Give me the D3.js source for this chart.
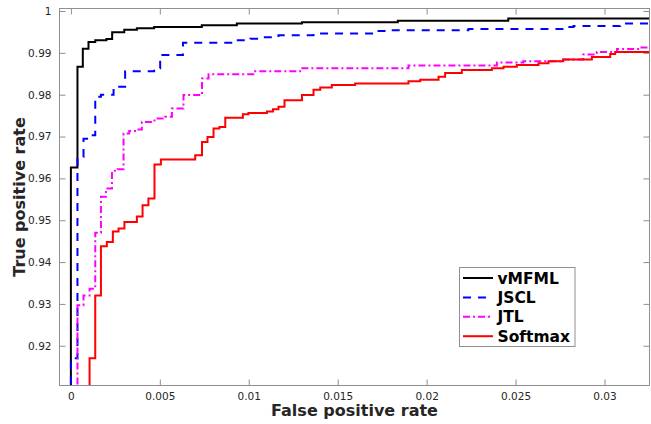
<!DOCTYPE html>
<html>
<head>
<meta charset="utf-8">
<script src="https://cdn.jsdelivr.net/npm/d3@7"></script>
<style>
  body { margin: 0; background: #fff; }
  svg { display: block; font-family: "DejaVu Sans", sans-serif; }
</style>
</head>
<body>
<svg id="chart" width="651" height="424"></svg>
<script>
// ROC curves, each point is (fpr, tpr reached at that fpr)
const seriesNames = ["vMFML", "JSCL", "JTL", "Softmax"];

const vmfmlFpr = [0, 0, 0.00037, 0.00067, 0.00099, 0.00137, 0.0020, 0.00232, 0.0030, 0.00371, 0.00468, 0.00736, 0.00933, 0.01299, 0.01838, 0.02459, 0.0326];
const vmfmlTpr = [0.90, 0.9626, 0.9867, 0.9910, 0.9926, 0.9930, 0.9933, 0.9949, 0.9955, 0.9959, 0.9962, 0.9966, 0.9970, 0.9973, 0.9977, 0.9982, 0.9982];

const jsclFpr = [0, 0, 0.00037, 0.00071, 0.00105, 0.00137, 0.00169, 0.0024, 0.00305, 0.00468, 0.00502, 0.0063, 0.00914, 0.01008, 0.01083, 0.01167, 0.01364, 0.0172, 0.01786, 0.02235, 0.02789, 0.02826, 0.03088, 0.0326];
const jsclTpr = [0.90, 0.9170, 0.9651, 0.9695, 0.9703, 0.9795, 0.9800, 0.9819, 0.9856, 0.9863, 0.9895, 0.9924, 0.9930, 0.9934, 0.9937, 0.9942, 0.9946, 0.9952, 0.9954, 0.9957, 0.9962, 0.9964, 0.9970, 0.9970];

const jtlFpr = [0.00037, 0.00037, 0.00071, 0.00105, 0.00137, 0.00169, 0.00197, 0.00231, 0.00262, 0.00296, 0.00328, 0.00361, 0.00399, 0.0047, 0.0053, 0.00568, 0.00633, 0.00737, 0.00774, 0.01036, 0.01289, 0.01898, 0.02395, 0.02543, 0.02768, 0.0288, 0.02957, 0.0307, 0.03201, 0.0326];
const jtlTpr = [0.90, 0.9297, 0.9320, 0.9336, 0.9470, 0.9556, 0.9576, 0.9618, 0.9622, 0.9707, 0.9713, 0.9717, 0.9735, 0.9743, 0.9747, 0.9767, 0.9799, 0.9839, 0.9849, 0.9856, 0.9863, 0.9870, 0.9877, 0.9880, 0.9884, 0.9896, 0.9902, 0.9909, 0.9913, 0.9913];

const softmaxFpr = [0.00105, 0.00105, 0.00137, 0.00169, 0.00202, 0.00236, 0.00268, 0.00301, 0.00371, 0.00403, 0.00436, 0.0047, 0.00506, 0.00699, 0.00737, 0.00768, 0.00802, 0.00835, 0.00868, 0.00967, 0.00998, 0.01102, 0.01136, 0.01167, 0.01201, 0.01299, 0.01364, 0.01402, 0.01467, 0.01598, 0.01898, 0.01964, 0.02067, 0.02104, 0.02198, 0.02367, 0.02432, 0.02507, 0.02629, 0.02685, 0.02768, 0.02929, 0.03032, 0.0306, 0.0326];
const softmaxTpr = [0.90, 0.9170, 0.9320, 0.9438, 0.9448, 0.9473, 0.9480, 0.9496, 0.9509, 0.9536, 0.9552, 0.9633, 0.9645, 0.9655, 0.9687, 0.9699, 0.9719, 0.9723, 0.9745, 0.9753, 0.9756, 0.9760, 0.9765, 0.9771, 0.9787, 0.9799, 0.9812, 0.9817, 0.9823, 0.9827, 0.9832, 0.9836, 0.9843, 0.9852, 0.9859, 0.9863, 0.9867, 0.9871, 0.9875, 0.9880, 0.9884, 0.9890, 0.9897, 0.9902, 0.9902];

const xTicks = [0, 0.005, 0.01, 0.015, 0.02, 0.025, 0.03];
const xTickLabels = ["0", "0.005", "0.01", "0.015", "0.02", "0.025", "0.03"];
const yTicks = [0.92, 0.93, 0.94, 0.95, 0.96, 0.97, 0.98, 0.99, 1];
const yTickLabels = ["0.92", "0.93", "0.94", "0.95", "0.96", "0.97", "0.98", "0.99", "1"];

const series = [
  { name: seriesNames[0], fpr: vmfmlFpr, tpr: vmfmlTpr },
  { name: seriesNames[1], fpr: jsclFpr, tpr: jsclTpr },
  { name: seriesNames[2], fpr: jtlFpr, tpr: jtlTpr },
  { name: seriesNames[3], fpr: softmaxFpr, tpr: softmaxTpr }
];
const styles = [
  { color: "#000000", dash: null },
  { color: "#0000ff", dash: "8,7" },
  { color: "#ff00ff", dash: "7,3,2,3" },
  { color: "#ff0000", dash: null }
];

const plotLeft = 59.5, plotRight = 649.5, plotTop = 8.5, plotBottom = 385.5;
const axisColor = "#8f8f8f";
const textColor = "#262626";

const svg = d3.select("#chart");

const x = d3.scaleLinear().domain([-0.00064, 0.03253]).range([plotLeft, plotRight]);
const y = d3.scaleLinear().domain([0.9105, 1.0006]).range([plotBottom, plotTop]);

svg.append("defs")
  .append("clipPath")
  .attr("id", "plot-clip")
  .append("rect")
  .attr("x", plotLeft)
  .attr("y", plotTop)
  .attr("width", plotRight - plotLeft)
  .attr("height", plotBottom - plotTop);

function styleAxis(g) {
  g.select(".domain").remove();
  g.selectAll(".tick line").attr("stroke", axisColor);
  g.selectAll(".tick text")
    .attr("fill", textColor)
    .attr("font-size", "10.5px")
    .attr("font-family", "DejaVu Sans, sans-serif");
}

// bottom and left axes with labels, top and right only ticks
svg.append("g")
  .attr("transform", "translate(0," + plotBottom + ")")
  .call(d3.axisBottom(x).tickValues(xTicks)
    .tickFormat(function (d, i) { return xTickLabels[i]; })
    .tickSizeInner(-6).tickSizeOuter(0).tickPadding(7))
  .call(styleAxis);

svg.append("g")
  .attr("transform", "translate(0," + plotTop + ")")
  .call(d3.axisTop(x).tickValues(xTicks).tickFormat("")
    .tickSizeInner(-6).tickSizeOuter(0))
  .call(styleAxis);

svg.append("g")
  .attr("transform", "translate(" + plotLeft + ",0)")
  .call(d3.axisLeft(y).tickValues(yTicks)
    .tickFormat(function (d, i) { return yTickLabels[i]; })
    .tickSizeInner(-6).tickSizeOuter(0).tickPadding(8))
  .call(styleAxis);

svg.append("g")
  .attr("transform", "translate(" + plotRight + ",0)")
  .call(d3.axisRight(y).tickValues(yTicks).tickFormat("")
    .tickSizeInner(-6).tickSizeOuter(0))
  .call(styleAxis);

// the curves
const line = d3.line()
  .x(function (d) { return x(d[0]); })
  .y(function (d) { return y(d[1]); })
  .curve(d3.curveStepAfter);

svg.append("g")
  .attr("clip-path", "url(#plot-clip)")
  .selectAll("path")
  .data(series)
  .enter()
  .append("path")
  .attr("d", function (s) { return line(d3.zip(s.fpr, s.tpr)); })
  .attr("fill", "none")
  .attr("stroke", function (s, i) { return styles[i].color; })
  .attr("stroke-width", 2)
  .attr("stroke-dasharray", function (s, i) { return styles[i].dash; });

// frame
svg.append("rect")
  .attr("x", plotLeft)
  .attr("y", plotTop)
  .attr("width", plotRight - plotLeft)
  .attr("height", plotBottom - plotTop)
  .attr("fill", "none")
  .attr("stroke", axisColor)
  .attr("stroke-width", 1);

// axis titles
svg.append("text")
  .text("False positive rate")
  .attr("x", (plotLeft + plotRight) / 2)
  .attr("y", 416)
  .attr("text-anchor", "middle")
  .attr("font-size", "16px")
  .attr("font-weight", "bold")
  .attr("fill", textColor);

svg.append("text")
  .text("True positive rate")
  .attr("transform", "translate(25," + (plotTop + plotBottom) / 2 + ") rotate(-90)")
  .attr("text-anchor", "middle")
  .attr("font-size", "16px")
  .attr("font-weight", "bold")
  .attr("fill", textColor);

// legend
const legend = svg.append("g").attr("transform", "translate(459.5,267.5)");
legend.append("rect")
  .attr("width", 115.5)
  .attr("height", 79)
  .attr("fill", "#fff")
  .attr("stroke", axisColor);

const items = legend.selectAll("g.item")
  .data(series)
  .enter()
  .append("g")
  .attr("class", "item")
  .attr("transform", function (d, i) { return "translate(0," + (10.5 + i * 19.4) + ")"; });

items.append("line")
  .attr("x1", 3.5)
  .attr("x2", 33.5)
  .attr("stroke", function (d, i) { return styles[i].color; })
  .attr("stroke-width", 2)
  .attr("stroke-dasharray", function (d, i) { return styles[i].dash; });

items.append("text")
  .text(function (d) { return d.name; })
  .attr("x", 38)
  .attr("dy", "0.36em")
  .attr("font-size", "15.5px")
  .attr("font-weight", "bold")
  .attr("fill", "#000");
</script>
</body>
</html>
